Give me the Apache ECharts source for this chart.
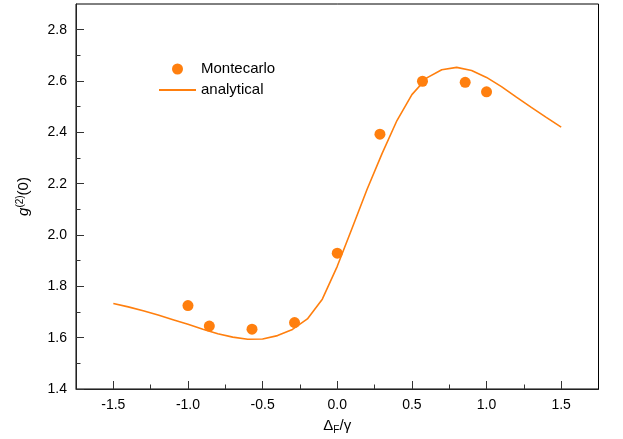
<!DOCTYPE html>
<html><head><meta charset="utf-8">
<script src="https://cdn.jsdelivr.net/npm/echarts@6/dist/echarts.min.js"></script>
<style>html,body{margin:0;padding:0;background:#fff}#c{width:623px;height:439px}</style>
</head><body><div id="c"></div>
<script>
var mcX = [-1.0, -0.857, -0.571, -0.286, 0.0, 0.286, 0.571, 0.857, 1.0];
var mcY = [1.725, 1.645, 1.633, 1.659, 1.929, 2.393, 2.599, 2.595, 2.558];
var anX = [-1.5,-1.4,-1.3,-1.2,-1.1,-1.0,-0.9,-0.8,-0.7,-0.6,-0.5,-0.4,-0.3,-0.2,-0.1,0.0,0.1,0.2,0.3,0.4,0.5,0.6,0.7,0.8,0.9,1.0,1.1,1.2,1.3,1.4,1.5];
var anY = [1.733,1.720,1.705,1.688,1.670,1.652,1.633,1.615,1.602,1.594,1.595,1.608,1.632,1.673,1.750,1.878,2.027,2.178,2.317,2.446,2.547,2.612,2.644,2.653,2.641,2.614,2.578,2.537,2.497,2.458,2.420];
var xMajor = [-1.5,-1.0,-0.5,0.0,0.5,1.0,1.5];
var xMinor = [-1.25,-0.75,-0.25,0.25,0.75,1.25];
var yMajor = [1.4,1.6,1.8,2.0,2.2,2.4,2.6,2.8];
var yMinor = [1.5,1.7,1.9,2.1,2.3,2.5,2.7];

var FONT = '"Liberation Sans", Arial, Helvetica, sans-serif';
var ORANGE = '#ff7f0e';
function zip(a,b){return a.map(function(v,i){return [v,b[i]];});}

var chart = echarts.init(document.getElementById('c'), null, {renderer:'canvas'});
chart.setOption({
  animation:false,
  backgroundColor:'#fff',
  textStyle:{fontFamily:FONT},
  grid:{left:76, right:24.5, top:4, bottom:50, show:true, borderColor:'#000', borderWidth:1, containLabel:false, outerBoundsMode:'none'},
  legend:{
    left:153, top:56.5, orient:'vertical', itemGap:6, itemWidth:37, itemHeight:11,
    textStyle:{fontFamily:FONT, fontSize:15, color:'#000'},
    data:[{name:'Montecarlo', icon:'circle'},{name:'analytical', itemStyle:{opacity:0}}]
  },
  xAxis:[{
    type:'value', min:-1.75, max:1.75, position:'bottom',
    name:'{d|Δ}{s|F}{d|/γ}', nameLocation:'middle', nameGap:28,
    nameTextStyle:{rich:{d:{fontFamily:FONT,fontSize:15,color:'#000'}, s:{fontFamily:FONT,fontSize:10,color:'#000',padding:[8,0,0,0]}}},
    axisLine:{onZero:false, lineStyle:{color:'#222', width:1}},
    axisTick:{inside:true, length:8, customValues:xMajor, lineStyle:{color:'#333'}},
    axisLabel:{customValues:xMajor, margin:9, fontSize:14, color:'#000', fontFamily:FONT, formatter:function(v){return v.toFixed(1);}},
    splitLine:{show:false}
  },{
    type:'value', min:-1.75, max:1.75, position:'bottom',
    axisLine:{show:false, onZero:false},
    axisTick:{inside:true, length:4.5, customValues:xMinor, lineStyle:{color:'#333'}},
    axisLabel:{show:false}, splitLine:{show:false}
  }],
  yAxis:[{
    type:'value', min:1.4, max:2.9, position:'left',
    name:'{i|g}{s|(2)}{d|(0)}', nameLocation:'middle', nameGap:43,
    nameTextStyle:{rich:{i:{fontFamily:FONT,fontSize:15,fontStyle:'italic',color:'#000'}, s:{fontFamily:FONT,fontSize:10,color:'#000',padding:[0,0,8,0]}, d:{fontFamily:FONT,fontSize:15,color:'#000'}}},
    axisLine:{onZero:false, lineStyle:{color:'#222', width:1}},
    axisTick:{inside:true, length:8, customValues:yMajor, lineStyle:{color:'#333'}},
    axisLabel:{customValues:yMajor, margin:9, fontSize:14, color:'#000', fontFamily:FONT, formatter:function(v){return v.toFixed(1);}},
    splitLine:{show:false}
  },{
    type:'value', min:1.4, max:2.9, position:'left',
    axisLine:{show:false, onZero:false},
    axisTick:{inside:true, length:4.5, customValues:yMinor, lineStyle:{color:'#333'}},
    axisLabel:{show:false}, splitLine:{show:false}
  }],
  series:[{
    name:'Montecarlo', type:'scatter', symbol:'circle', symbolSize:11,
    itemStyle:{color:ORANGE, opacity:1}, data:zip(mcX, mcY), z:3
  },{
    name:'analytical', type:'line', symbol:'none', showSymbol:false, smooth:false,
    lineStyle:{color:ORANGE, width:1.6}, itemStyle:{color:ORANGE}, data:zip(anX, anY), z:2
  }]
});
</script></body></html>
